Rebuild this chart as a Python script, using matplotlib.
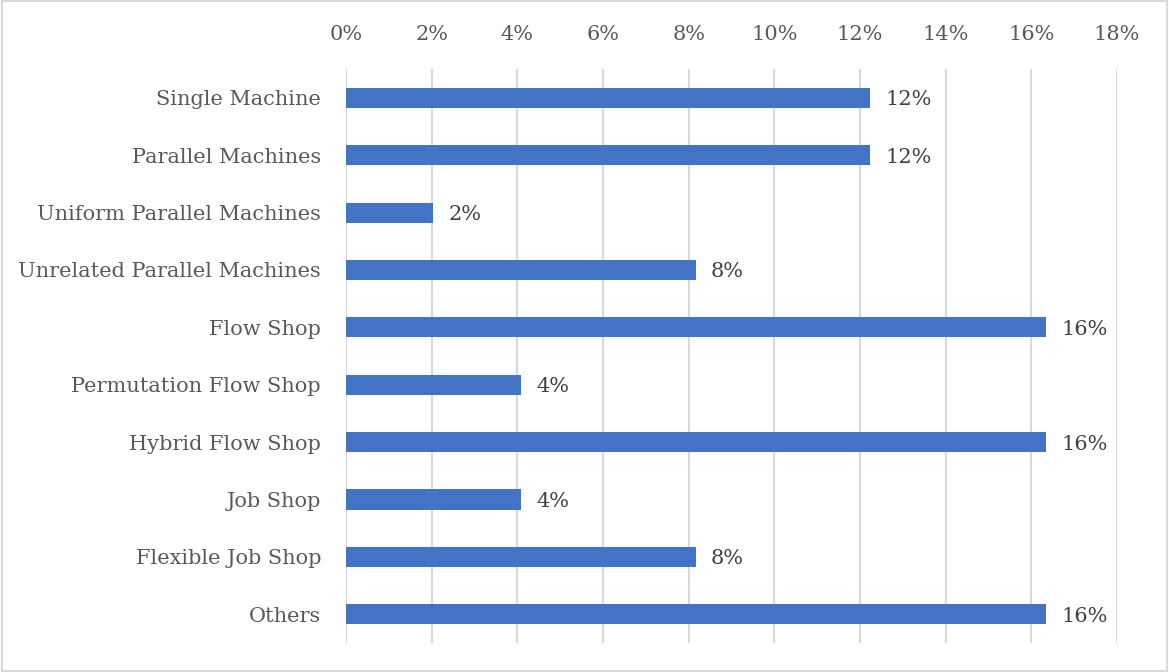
import matplotlib
matplotlib.use('Agg')
import matplotlib.pyplot as plt
from matplotlib.patches import Rectangle

# 数据
categories = [
    "Single Machine",
    "Parallel Machines",
    "Uniform Parallel Machines",
    "Unrelated Parallel Machines",
    "Flow Shop",
    "Permutation Flow Shop",
    "Hybrid Flow Shop",
    "Job Shop",
    "Flexible Job Shop",
    "Others",
]
shares = [0.1224, 0.1224, 0.0204, 0.0816, 0.1633, 0.0408, 0.1633, 0.0408, 0.0816, 0.1633]
bar_labels = ["12%", "12%", "2%", "8%", "16%", "4%", "16%", "4%", "8%", "16%"]
xticks = [0.0, 0.02, 0.04, 0.06, 0.08, 0.10, 0.12, 0.14, 0.16, 0.18]

plt.rcParams['font.family'] = ['DejaVu Serif']
text_color = '#595959'
grid_color = '#d9d9d9'
bar_color = '#4472c4'

fig = plt.figure(figsize=(11.69, 6.72), dpi=100)
ax = fig.add_axes([0.296, 0.0432, 0.6596, 0.854])

y = list(range(len(categories)))
ax.barh(y, shares, height=0.35, color=bar_color, zorder=3)
for yi, v, lab in zip(y, shares, bar_labels):
    ax.text(v + 0.0036, yi, lab, va='center_baseline', ha='left', fontsize=15, color='#404040')

ax.set_xlim(0, 0.18)
ax.set_ylim(len(categories) - 0.5, -0.5)
ax.set_xticks(xticks)
ax.set_xticklabels([f"{int(round(t * 100))}%" for t in xticks])
ax.xaxis.tick_top()
ax.set_yticks(y)
ax.set_yticklabels(categories)
ax.tick_params(axis='both', length=0, labelsize=15, colors=text_color)
ax.tick_params(axis='x', pad=18)
ax.tick_params(axis='y', pad=18)
ax.grid(axis='x', color=grid_color, linewidth=1.5, zorder=0)
for s in ax.spines.values():
    s.set_visible(False)

# 外框
fig.patches.append(Rectangle((0.002, 0.002), 0.996, 0.996, transform=fig.transFigure,
                             fill=False, edgecolor=grid_color, linewidth=1.5))

fig.savefig('out.png', dpi=100)
